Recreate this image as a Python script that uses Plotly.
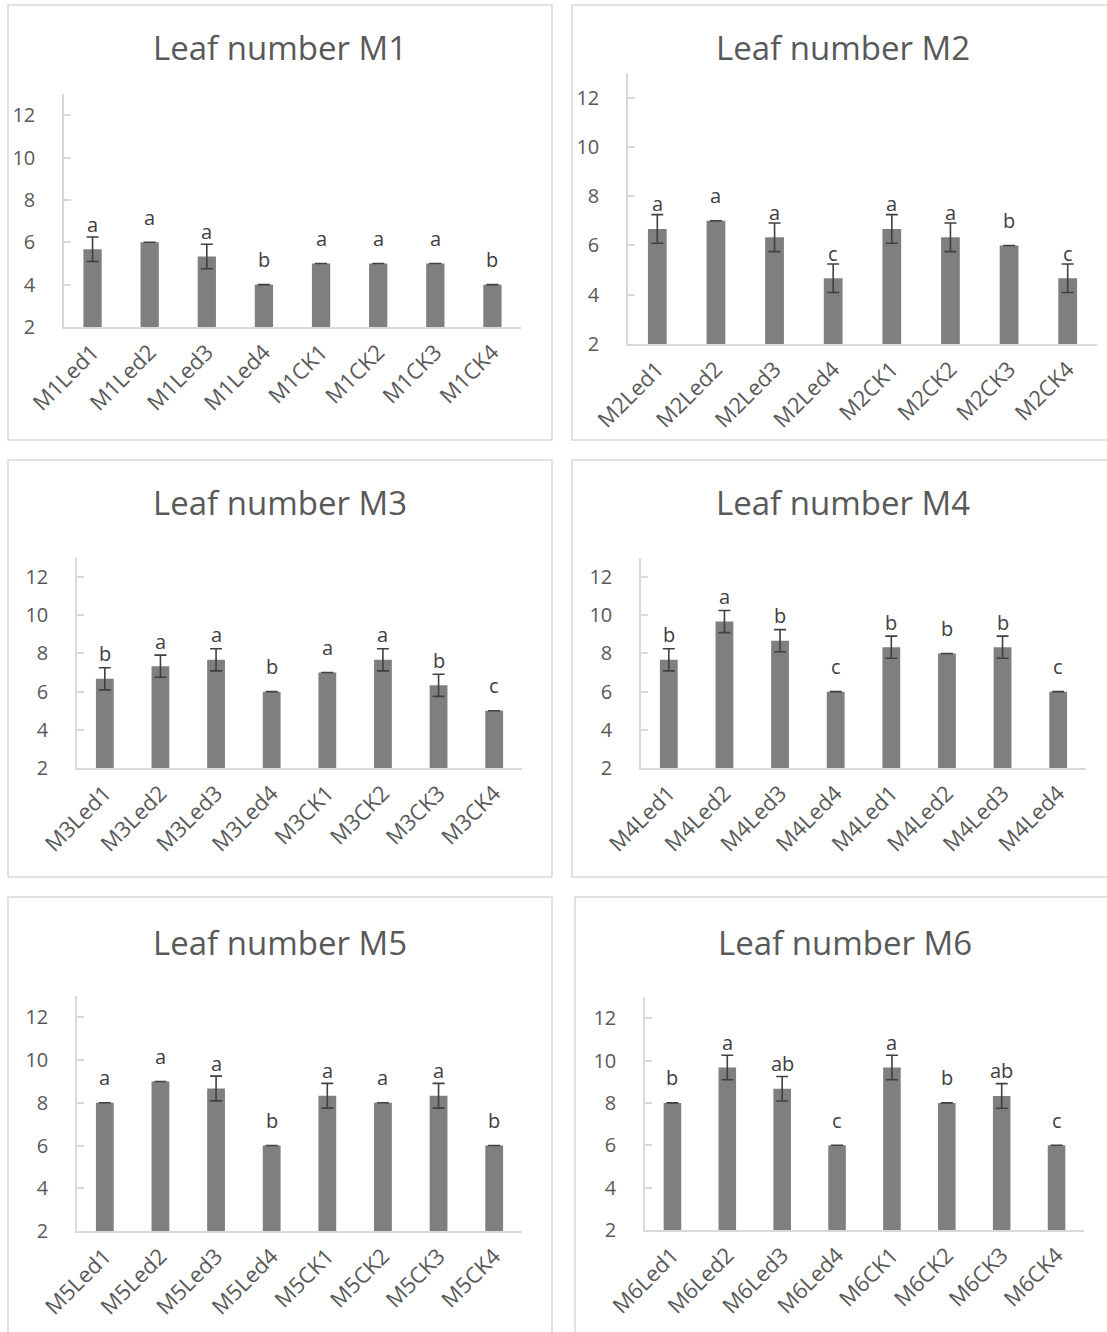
import plotly.graph_objects as go

# ---- data -------------------------------------------------------------
labels_M1 = ["M1Led1", "M1Led2", "M1Led3", "M1Led4", "M1CK1", "M1CK2", "M1CK3", "M1CK4"]
means_M1 = [5.67, 6.0, 5.33, 4.0, 5.0, 5.0, 5.0, 4.0]
sd_M1 = [0.58, 0.0, 0.58, 0.0, 0.0, 0.0, 0.0, 0.0]
letters_M1 = ["a", "a", "a", "b", "a", "a", "a", "b"]

labels_M2 = ["M2Led1", "M2Led2", "M2Led3", "M2Led4", "M2CK1", "M2CK2", "M2CK3", "M2CK4"]
means_M2 = [6.67, 7.0, 6.33, 4.67, 6.67, 6.33, 6.0, 4.67]
sd_M2 = [0.58, 0.0, 0.58, 0.58, 0.58, 0.58, 0.0, 0.58]
letters_M2 = ["a", "a", "a", "c", "a", "a", "b", "c"]

labels_M3 = ["M3Led1", "M3Led2", "M3Led3", "M3Led4", "M3CK1", "M3CK2", "M3CK3", "M3CK4"]
means_M3 = [6.67, 7.33, 7.67, 6.0, 7.0, 7.67, 6.33, 5.0]
sd_M3 = [0.58, 0.58, 0.58, 0.0, 0.0, 0.58, 0.58, 0.0]
letters_M3 = ["b", "a", "a", "b", "a", "a", "b", "c"]

labels_M4 = ["M4Led1", "M4Led2", "M4Led3", "M4Led4", "M4Led1", "M4Led2", "M4Led3", "M4Led4"]
means_M4 = [7.67, 9.67, 8.67, 6.0, 8.33, 8.0, 8.33, 6.0]
sd_M4 = [0.58, 0.58, 0.58, 0.0, 0.58, 0.0, 0.58, 0.0]
letters_M4 = ["b", "a", "b", "c", "b", "b", "b", "c"]

labels_M5 = ["M5Led1", "M5Led2", "M5Led3", "M5Led4", "M5CK1", "M5CK2", "M5CK3", "M5CK4"]
means_M5 = [8.0, 9.0, 8.67, 6.0, 8.33, 8.0, 8.33, 6.0]
sd_M5 = [0.0, 0.0, 0.58, 0.0, 0.58, 0.0, 0.58, 0.0]
letters_M5 = ["a", "a", "a", "b", "a", "a", "a", "b"]

labels_M6 = ["M6Led1", "M6Led2", "M6Led3", "M6Led4", "M6CK1", "M6CK2", "M6CK3", "M6CK4"]
means_M6 = [8.0, 9.67, 8.67, 6.0, 9.67, 8.0, 8.33, 6.0]
sd_M6 = [0.0, 0.58, 0.58, 0.0, 0.58, 0.0, 0.58, 0.0]
letters_M6 = ["b", "a", "ab", "c", "a", "b", "ab", "c"]

titles = ["Leaf number M1", "Leaf number M2", "Leaf number M3",
          "Leaf number M4", "Leaf number M5", "Leaf number M6"]

panels_data = [
    (labels_M1, means_M1, sd_M1, letters_M1),
    (labels_M2, means_M2, sd_M2, letters_M2),
    (labels_M3, means_M3, sd_M3, letters_M3),
    (labels_M4, means_M4, sd_M4, letters_M4),
    (labels_M5, means_M5, sd_M5, letters_M5),
    (labels_M6, means_M6, sd_M6, letters_M6),
]

# ---- page geometry (pixels) --------------------------------------------
W, H = 1107, 1332
FONT = "Open Sans"
TEXT_GREY = "#595959"
LINE_GREY = "#d9d9d9"
BAR_GREY = "#7f7f7f"
ERR_GREY = "#404040"

# plot area: left, right, pixel row of y=2, pixel row of y=13
plot_boxes = [
    (64, 521, 327, 94),
    (628, 1097, 344, 73),
    (77, 522, 768, 558),
    (641, 1086, 768, 558),
    (77, 522, 1231, 996),
    (645, 1084, 1230, 997),
]
# outer frame of each chart: x0, x1, y0, y1
frames = [
    (8, 552, 5, 440),
    (572, 1115, 5, 440),
    (8, 552, 460, 877),
    (572, 1115, 460, 877),
    (8, 552, 897, 1345),
    (575, 1115, 897, 1345),
]
title_rows = [48, 48, 503, 503, 943, 943]


def px_x(p):
    return p / W


def px_y(p):
    return 1 - p / H


fig = go.Figure()
layout = dict(
    width=W, height=H,
    margin=dict(l=0, r=0, t=0, b=0, autoexpand=False),
    paper_bgcolor="white", plot_bgcolor="white",
    showlegend=False,
    font=dict(family=FONT, color=TEXT_GREY),
    shapes=[], annotations=[],
)

for i, (labels, means, sds, letters) in enumerate(panels_data):
    n = i + 1
    xa = "x" if n == 1 else f"x{n}"
    ya = "y" if n == 1 else f"y{n}"
    xs = list(range(len(labels)))

    fig.add_trace(go.Bar(
        x=xs, y=[m - 2 for m in means], base=2,
        width=0.32,
        marker=dict(color=BAR_GREY, line=dict(width=0)),
        error_y=dict(type="data", array=sds, visible=True,
                     color=ERR_GREY, thickness=1.6, width=6),
        xaxis=xa, yaxis=ya, hoverinfo="skip",
    ))

    left, right, ybot, ytop = plot_boxes[i]
    layout["xaxis" if n == 1 else f"xaxis{n}"] = dict(
        domain=[px_x(left), px_x(right)],
        anchor=ya, range=[-0.5, len(labels) - 0.5],
        tickmode="array", tickvals=xs, ticktext=labels,
        tickangle=-45, ticks="", showgrid=False, zeroline=False,
        showline=True, linecolor=LINE_GREY, linewidth=1.5,
        tickfont=dict(family=FONT, size=22, color=TEXT_GREY),
        ticklabelstandoff=2,
        automargin=False, fixedrange=True,
    )
    layout["yaxis" if n == 1 else f"yaxis{n}"] = dict(
        domain=[px_y(ybot), px_y(ytop)],
        anchor=xa, range=[2, 13],
        tickmode="array", tickvals=[2, 4, 6, 8, 10, 12],
        ticks="inside", ticklen=7, tickcolor=LINE_GREY, tickwidth=1.5,
        showgrid=False, zeroline=False,
        showline=True, linecolor=LINE_GREY, linewidth=1.5,
        tickfont=dict(family=FONT, size=20, color=TEXT_GREY),
        ticklabelstandoff=23,
        automargin=False, fixedrange=True,
    )

    # significance letters above each bar
    for x, m, letter in zip(xs, means, letters):
        layout["annotations"].append(dict(
            x=x, y=m, xref=xa, yref=ya, text=letter, showarrow=False,
            yanchor="middle", yshift=25,
            font=dict(family=FONT, size=20, color="#404040"),
        ))

    # chart title
    fx0, fx1, fy0, fy1 = frames[i]
    layout["annotations"].append(dict(
        x=px_x((fx0 + fx1) / 2), y=px_y(title_rows[i]),
        xref="paper", yref="paper", text=titles[i], showarrow=False,
        xanchor="center", yanchor="middle",
        font=dict(family=FONT, size=33, color=TEXT_GREY),
    ))

    # chart frame
    layout["shapes"].append(dict(
        type="rect", xref="paper", yref="paper",
        x0=px_x(fx0), x1=px_x(fx1), y0=px_y(fy1), y1=px_y(fy0),
        line=dict(color=LINE_GREY, width=1.5), fillcolor="rgba(0,0,0,0)",
        layer="below",
    ))

fig.update_layout(**layout)
fig.write_html("out.html")
